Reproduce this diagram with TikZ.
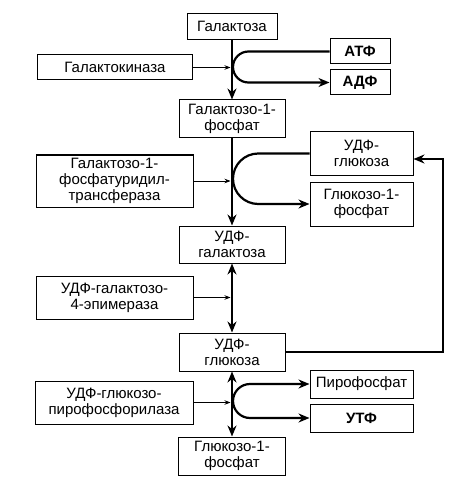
\documentclass[tikz,border=0pt]{standalone}
\usepackage{fontspec}
\setmainfont{Liberation Sans}
\usetikzlibrary{arrows.meta,calc}
\begin{document}
\begin{tikzpicture}[x=1pt,y=-1pt,
  txt/.style={font=\fontsize{15}{16}\selectfont},
  box/.style={draw,line width=1pt,inner sep=0pt,align=center,txt},
  bbox/.style={box,font=\fontsize{15}{16}\selectfont\bfseries},
  main/.style={line width=2.2pt,-{Stealth[length=11pt,width=9pt]}},
  dbl/.style={line width=2.2pt,{Stealth[length=11pt,width=9pt]}-{Stealth[length=11pt,width=9pt]}},
  enz/.style={line width=0.7pt,-{Stealth[length=6pt,width=4.5pt]},shorten >=2.5pt}]
\useasboundingbox (0,0) rectangle (469,497);
\coordinate (ax) at (233,0);
% central column
\node[box,minimum width=90,minimum height=26] (gal) at (232,26.5) {Галактоза};
\node[box,minimum width=106,minimum height=38] (g1p) at (232,119) {Галактозо-1-\\фосфат};
\node[box,minimum width=106,minimum height=37] (udpgal) at (232,244.5) {УДФ-\\галактоза};
\node[box,minimum width=106,minimum height=38] (udpg) at (232,352) {УДФ-\\глюкоза};
\node[box,minimum width=107,minimum height=38] (g1pb) at (232,456) {Глюкозо-1-\\фосфат};
% enzymes
\node[box,minimum width=155,minimum height=25] (gk) at (115,67.5) {Галактокиназа};
\node[box,minimum width=157,minimum height=52] (gut) at (114.5,181) {Галактозо-1-\\фосфатуридил-\\трансфераза};
\node[box,minimum width=157,minimum height=43] (epi) at (114.5,297.5) {УДФ-галактозо-\\4-эпимераза};
\node[box,minimum width=158,minimum height=43] (ppe) at (114,402.5) {УДФ-глюкозо-\\пирофосфорилаза};
% right side
\node[bbox,minimum width=60,minimum height=25] (atp) at (360,51.5) {АТФ};
\node[bbox,minimum width=60,minimum height=25] (adp) at (360,82.5) {АДФ};
\node[box,minimum width=103,minimum height=43] (udpgr) at (361.5,153.5) {УДФ-\\глюкоза};
\node[box,minimum width=103,minimum height=44] (g1pr) at (361.5,204) {Глюкозо-1-\\фосфат};
\node[box,minimum width=103,minimum height=28] (ppi) at (361.5,384) {Пирофосфат};
\node[bbox,minimum width=103,minimum height=28] (utp) at (361.5,418) {УТФ};
% main axis
\draw[main] (gal.south) -- (g1p.north);
\draw[main] (g1p.south) -- (udpgal.north);
\draw[dbl] (udpgal.south) -- (udpg.north);
\draw[dbl] (udpg.south) -- (g1pb.north);
% side curves
\draw[main] (atp.west) -- (248.5,51.5) arc[start angle=270,end angle=90,radius=15.5] -- (adp.west);
\draw[main] (udpgr.west) -- (258.25,153.5) arc[start angle=270,end angle=90,radius=25.25] -- (g1pr.west);
\draw[dbl] (ppi.west) -- (250,384) arc[start angle=270,end angle=90,radius=17] -- (utp.west);
% enzyme arrows
\draw[enz] (gk.east) -- (gk.east -| ax);
\draw[enz] (gut.east) -- (gut.east -| ax);
\draw[enz] (epi.east) -- (epi.east -| ax);
\draw[enz] (ppe.east) -- (ppe.east -| ax);
% feedback
\coordinate (ret) at (443,159);
\draw[main] (udpg.east) -| (ret) -- (udpgr.east |- ret);
\end{tikzpicture}
\end{document}
